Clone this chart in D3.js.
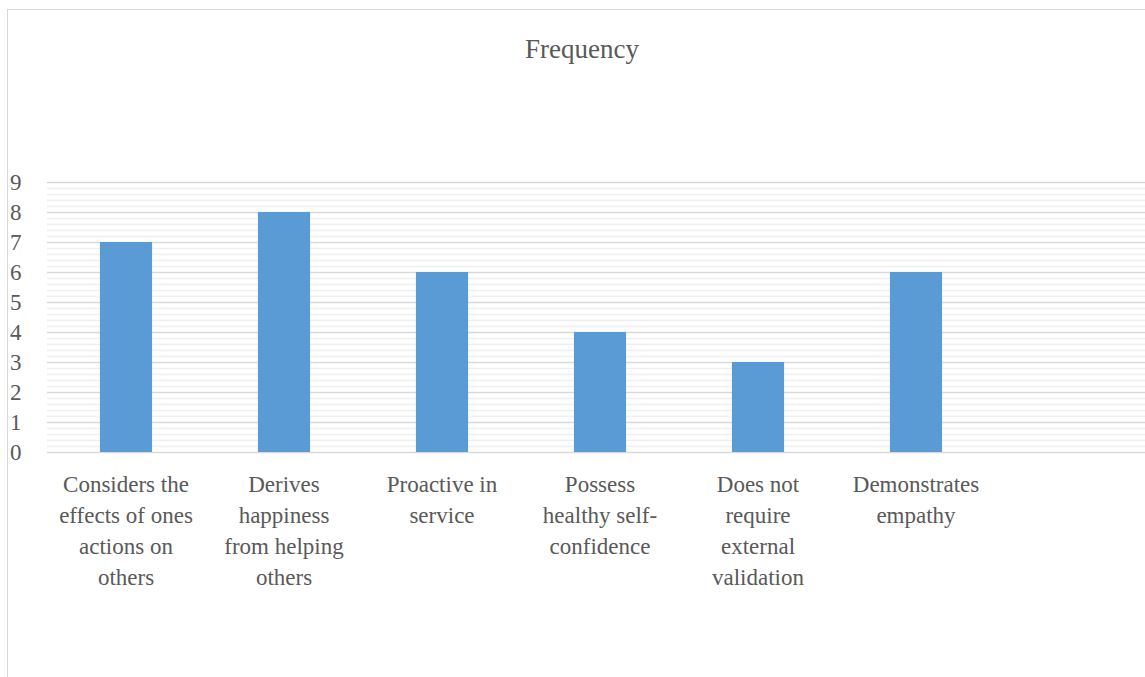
<!DOCTYPE html>
<html>
<head>
<meta charset="utf-8">
<script src="https://cdn.jsdelivr.net/npm/d3@7"></script>
</head>
<body style="margin:0">
<script>
// categories as wrapped in the original, plus one empty slot at the end
const categories = [
    ["Considers the", "effects of ones", "actions on", "others"],
    ["Derives", "happiness", "from helping", "others"],
    ["Proactive in", "service"],
    ["Possess", "healthy self-", "confidence"],
    ["Does not", "require", "external", "validation"],
    ["Demonstrates", "empathy"],
    []
]
const frequency = [7, 8, 6, 4, 3, 6, null]
const yTicks = [0, 1, 2, 3, 4, 5, 6, 7, 8, 9]

const serif = "'Times New Roman'"
const width = 1145, height = 677
const margin = {top: 182, left: 47, bottom: 225}
const plotW = 158 * categories.length
const plotH = height - margin.top - margin.bottom

const svg = d3.select("body").append("svg")
    .attr("width", width)
    .attr("height", height)

// chart frame
svg.append("rect")
    .attr("x", 7.5).attr("y", 9.5)
    .attr("width", width + 20).attr("height", height + 20)
    .attr("fill", "none").attr("stroke", "#d9d9d9")

svg.append("text")
    .attr("x", 582).attr("y", 58)
    .attr("text-anchor", "middle")
    .attr("font-size", 27)
    .style("font-family", serif)
    .style("fill", "#595959")
    .text("Frequency")

const g = svg.append("g").attr("transform", "translate(" + margin.left + "," + margin.top + ")")

const x = d3.scaleBand()
    .domain(d3.range(categories.length))
    .range([0, plotW])
    .paddingInner(0.67)
    .paddingOuter(0.335)

const y = d3.scaleLinear().domain([0, 9]).range([plotH, 0])

// minor gridlines
const minor = d3.range(0, 9.001, 0.2).filter(v => Math.abs(v - Math.round(v)) > 0.01)
g.append("g")
    .call(d3.axisLeft(y).tickValues(minor).tickSize(-plotW).tickFormat(""))
    .call(a => a.select(".domain").remove())
    .call(a => a.selectAll("line").attr("stroke", "#f0f0f0").attr("stroke-width", 1.5))

// major gridlines + labels
g.append("g")
    .call(d3.axisLeft(y).tickValues(yTicks).tickSize(-plotW).tickFormat(d3.format("d")))
    .call(a => a.select(".domain").remove())
    .call(a => a.selectAll("line").attr("stroke", "#d9d9d9").attr("stroke-width", 1.5))
    .call(a => a.selectAll("text")
        .attr("font-size", 23)
        .style("font-family", serif)
        .style("fill", "#595959")
        .attr("text-anchor", "start").attr("x", -37))

// bars
g.append("g").selectAll("rect")
    .data(frequency.map((v, i) => ({i, v})).filter(d => d.v !== null))
    .enter()
    .append("rect")
    .attr("x", d => x(d.i))
    .attr("y", d => y(d.v))
    .attr("width", x.bandwidth())
    .attr("height", d => y(0) - y(d.v))
    .attr("fill", "#5b9bd5")

// category labels, one text per line
categories.forEach((lines, i) => {
    g.append("g").selectAll("text")
        .data(lines)
        .enter()
        .append("text")
        .attr("x", x(i) + x.bandwidth() / 2)
        .attr("y", (d, k) => plotH + 40 + k * 31)
        .attr("text-anchor", "middle")
        .attr("font-size", 23)
        .style("font-family", serif)
        .style("fill", "#595959")
        .text(d => d)
})
</script>
</body>
</html>
